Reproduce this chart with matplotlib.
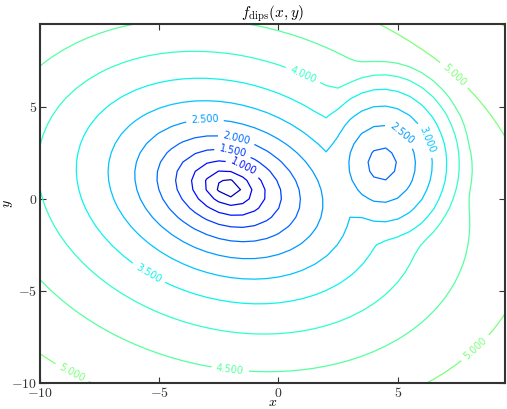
import matplotlib
matplotlib.use("Agg")
import matplotlib.pyplot as plt
import numpy as np
from matplotlib.ticker import FuncFormatter

plt.rcParams['mathtext.fontset'] = 'cm'

# sampling grid of the surface
x = np.arange(-10, 10, 0.5)
y = np.arange(-10, 10, 0.5)

# left dip: centre, floor, log growth (k, s), quadratic shape (A, B, C),
# far-field corrections: tilt in y, anti-diagonal damping, cross term
left_centre = [-2.1, 0.6]
left_floor = -0.64
left_growth = [3.03, 2.2]
left_shape = [1.1, 0.25, 1.2]
left_tilt = 0.01
left_damp = 0.003
left_cross = 0.005

# right dip: centre, floor, slope (linear, cubic) and vertical stretch
right_centre = [4.35, 1.9]
right_floor = 1.65
right_slope = [0.58, 0.014]
right_stretch = 1.5

# softness of the blend between the two dips
blend = 0.1

levels = [0.0, 0.5, 1.0, 1.5, 2.0, 2.5, 3.0, 3.5, 4.0, 4.5, 5.0, 5.5]

# where the inline labels sit
label_spots = [(-1.47, 1.75), (-1.93, 2.5), (-1.8, 3.06), (-3.07, 4.04),
               (5.38, 3.88), (6.47, 3.33), (-5.25, -3.6), (0.8, 6.1),
               (-2.0, -9.0), (-8.3, -8.6), (7.2, 6.5), (8.6, -8.6)]


def f_dips(X, Y):
    dx = X - left_centre[0]
    dy = Y - left_centre[1]
    a, b, c = left_shape
    d1 = np.sqrt(a * dx**2 + 2 * b * dx * dy + c * dy**2)
    f1 = left_floor + left_growth[0] * np.log(1 + d1 / left_growth[1])
    f1 = (f1 + left_tilt * dy - left_damp * (dx - dy)**2 / 2
          - left_cross * dx * dy)
    ex = X - right_centre[0]
    ey = (Y - right_centre[1]) / right_stretch
    d2 = np.sqrt(ex**2 + ey**2)
    f2 = right_floor + right_slope[0] * d2 + right_slope[1] * d2**3
    lo = np.minimum(f1, f2)
    return lo - blend * np.log(np.exp((lo - f1) / blend) + np.exp((lo - f2) / blend))


X, Y = np.meshgrid(x, y)
Z = f_dips(X, Y)

fig = plt.figure(figsize=(5.07, 4.09), dpi=100)
ax = fig.add_axes([0.079, 0.064, 0.917, 0.877])

norm = plt.Normalize(-0.556, 10.556)
cs = ax.contour(X, Y, Z, levels=levels, cmap='jet', norm=norm, linewidths=0.9)
ax.clabel(cs, fmt='%.3f', fontsize=7, inline=True, manual=label_spots)

ax.set_xlim(-10, 9.5)
ax.set_ylim(-10, 9.5)
ax.set_xticks([-10, -5, 0, 5])
ax.set_yticks([-10, -5, 0, 5])
fmt = FuncFormatter(lambda v, pos: r'$%d$' % v)
ax.xaxis.set_major_formatter(fmt)
ax.yaxis.set_major_formatter(fmt)
ax.tick_params(direction='in', top=True, right=True, labelsize=10, pad=2,
               length=4, colors='#333333', labelcolor='#333333')
for s in ax.spines.values():
    s.set_linewidth(1.5)
    s.set_color('#333333')

ax.set_title(r'$f_{\rm dips}(x,y)$', fontsize=11, pad=5)
ax.set_xlabel(r'$x$', fontsize=10, labelpad=-3)
ax.set_ylabel(r'$y$', fontsize=10, labelpad=-3)

fig.savefig('out.png', dpi=100)
